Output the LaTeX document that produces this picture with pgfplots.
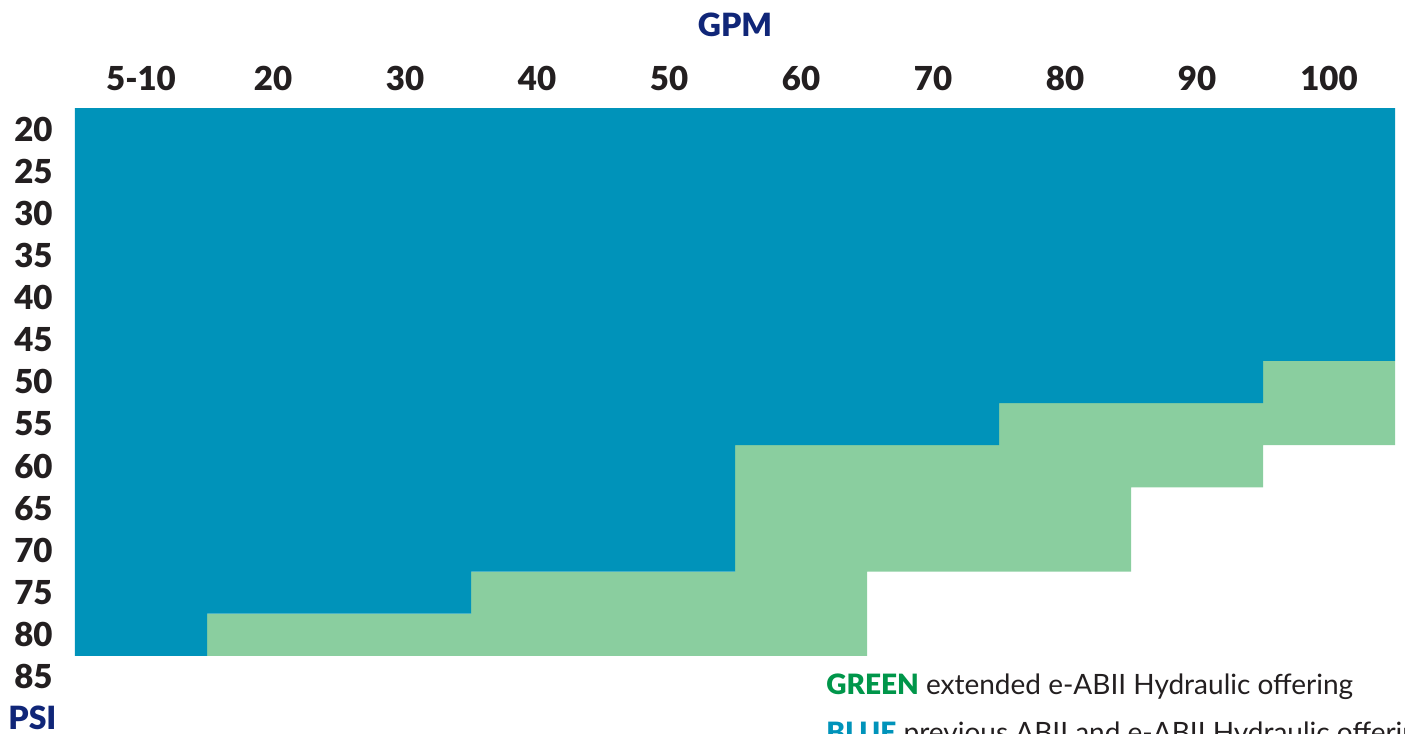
\documentclass[border=0pt]{standalone}
\usepackage{fontspec}
\setmainfont{Lato}
\newfontfamily\heavy{Lato Black}
\usepackage{pgfplots}
\pgfplotsset{compat=1.18}
\definecolor{flowblue}{HTML}{0093BA}
\definecolor{flowgreen}{HTML}{8ACE9F}
\definecolor{textdark}{HTML}{231F20}
\definecolor{navy}{HTML}{102678}
\definecolor{wordgreen}{HTML}{00964A}

\begin{document}
\begin{tikzpicture}
\path[use as bounding box] (0,0) rectangle (702.5pt,367pt);
\clip (0,0) rectangle (702.5pt,367pt);
\begin{axis}[
    at={(37.5pt,18pt)}, anchor=south west,
    scale only axis, width=660pt, height=295pt,
    xmin=0, xmax=10, ymin=0, ymax=14, y dir=reverse,
    ybar stacked, bar width=1,
    axis line style={draw=none}, major tick length=0pt,
    xtick={0.5,1.5,2.5,3.5,4.5,5.5,6.5,7.5,8.5,9.5},
    xticklabels={5-10,20,30,40,50,60,70,80,90,100},
    xticklabel pos=top,
    ytick={0.5,1.5,2.5,3.5,4.5,5.5,6.5,7.5,8.5,9.5,10.5,11.5,12.5,13.5},
    yticklabels={20,25,30,35,40,45,50,55,60,65,70,75,80,85},
    xticklabel style={font=\heavy\fontsize{16.5pt}{16.5pt}\selectfont, text=textdark,
        anchor=south, inner sep=0pt, yshift=8.5pt},
    yticklabel style={font=\heavy\fontsize{16.5pt}{16.5pt}\selectfont, text=textdark,
        anchor=east, inner sep=0pt, xshift=-11pt},
]
% blue: rows covered from 20 PSI downwards, per GPM column
\addplot[fill=flowblue, draw=none] coordinates {
    (0.5,13) (1.5,12) (2.5,12) (3.5,11) (4.5,11)
    (5.5,8) (6.5,8) (7.5,7) (8.5,7) (9.5,6)};
% green: extension below the blue block
\addplot[fill=flowgreen, draw=none] coordinates {
    (0.5,0) (1.5,1) (2.5,1) (3.5,2) (4.5,2)
    (5.5,5) (6.5,3) (7.5,4) (8.5,2) (9.5,2)};
\end{axis}
\node[anchor=base, inner sep=0pt, text=navy,
    font=\heavy\fontsize{16pt}{16pt}\selectfont] at (367.5pt,348.5pt) {GPM};
\node[anchor=base west, inner sep=0pt, text=navy,
    font=\heavy\fontsize{16pt}{16pt}\selectfont] at (4pt,2pt) {PSI};
\node[anchor=base west, inner sep=0pt, text=textdark,
    font=\fontsize{14pt}{14pt}\selectfont] at (413pt,19.5pt)
    {{\heavy\color{wordgreen}GREEN} extended e-ABII Hydraulic offering};
\node[anchor=base west, inner sep=0pt, text=textdark,
    font=\fontsize{14pt}{14pt}\selectfont] at (413pt,-4.5pt)
    {{\heavy\color{flowblue}BLUE} previous ABII and e-ABII Hydraulic offering};
\end{tikzpicture}
\end{document}
